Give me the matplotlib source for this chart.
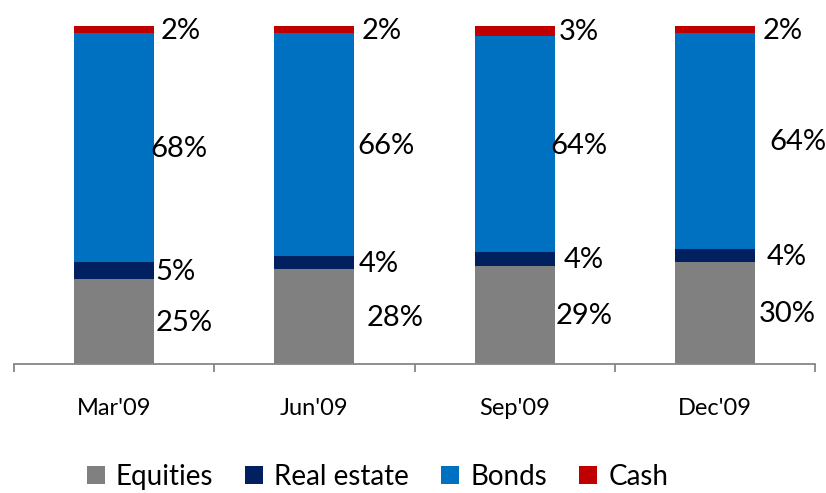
import matplotlib
matplotlib.use("Agg")
import matplotlib.pyplot as plt
import numpy as np

plt.rcParams['font.family'] = ['Lato', 'DejaVu Sans']

quarters = ["Mar'09", "Jun'09", "Sep'09", "Dec'09"]
series = ["Equities", "Real estate", "Bonds", "Cash"]
equities = [25, 28, 29, 30]
real_estate = [5, 4, 4, 4]
bonds = [68, 66, 64, 64]
cash = [2, 2, 3, 2]

colors = ["#808080", "#002060", "#0070C0", "#C00000"]

# horizontal nudge (pixels) for each value label, per series then quarter
label_dx = [
    [1, 12, 1, 4],
    [1, 4, 9, 12],
    [-4, 3, -4, 14],
    [6, 7, 4, 8],
]

fig = plt.figure(figsize=(8.26, 4.93), dpi=100)
ax = fig.add_axes([14 / 826, 129.5 / 493, 801 / 826, 337.5 / 493])

x = np.arange(len(quarters))
width = 0.4
bottom = np.zeros(len(quarters))
for i, (name, vals) in enumerate(zip(series, [equities, real_estate, bonds, cash])):
    vals = np.array(vals, dtype=float)
    ax.bar(x, vals, width, bottom=bottom, color=colors[i], label=name,
           edgecolor="none", zorder=2)
    for j, v in enumerate(vals):
        ax.annotate(f"{int(v)}%", xy=(x[j] + width / 2, bottom[j] + v / 2),
                    xytext=(label_dx[i][j] * 0.72, -1), textcoords="offset points",
                    ha="left", va="center", fontsize=21, color="black",
                    annotation_clip=False)
    bottom += vals

ax.set_xlim(-0.5, len(quarters) - 0.5)
ax.set_ylim(0, 100)
ax.set_yticks([])
for s in ["top", "right", "left"]:
    ax.spines[s].set_visible(False)
ax.spines["bottom"].set_color("#868686")
ax.spines["bottom"].set_linewidth(1.3)

ax.set_xticks(x)
ax.set_xticklabels(quarters, fontsize=17)
ax.set_xticks(np.arange(-0.5, len(quarters)), minor=True)
ax.tick_params(axis="x", which="major", length=0, pad=25)
ax.tick_params(axis="x", which="minor", length=6, width=1.3, color="#868686",
               direction="out")

fig.legend(loc="center", bbox_to_anchor=(0.457, 0.033), ncol=4, frameon=False,
           fontsize=20, handlelength=0.65, handleheight=0.65, handletextpad=0.4,
           columnspacing=1.15)

fig.savefig("out.png", dpi=100)
